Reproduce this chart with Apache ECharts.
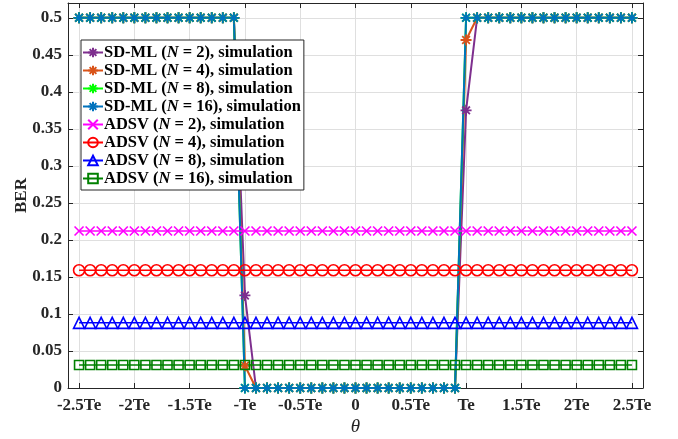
<!DOCTYPE html>
<html>
<head>
<meta charset="utf-8">
<script src="https://cdn.jsdelivr.net/npm/echarts@6/dist/echarts.min.js"></script>
<style>html,body{margin:0;padding:0;background:#fff;}#c{width:678px;height:439px;}</style>
</head>
<body>
<div id="c"></div>
<script>
const thetaValues = [-2.5,-2.4,-2.3,-2.2,-2.1,-2.0,-1.9,-1.8,-1.7,-1.6,-1.5,-1.4,-1.3,-1.2,-1.1,-1.0,-0.9,-0.8,-0.7,-0.6,-0.5,-0.4,-0.3,-0.2,-0.1,0,0.1,0.2,0.3,0.4,0.5,0.6,0.7,0.8,0.9,1.0,1.1,1.2,1.3,1.4,1.5,1.6,1.7,1.8,1.9,2.0,2.1,2.2,2.3,2.4,2.5];
const xTickValues = [-2.5,-2,-1.5,-1,-0.5,0,0.5,1,1.5,2,2.5];
const xTickLabels = ['-2.5Te','-2Te','-1.5Te','-Te','-0.5Te','0','0.5Te','Te','1.5Te','2Te','2.5Te'];
const yTickValues = [0,0.05,0.1,0.15,0.2,0.25,0.3,0.35,0.4,0.45,0.5];
const yTickLabels = ['0','0.05','0.1','0.15','0.2','0.25','0.3','0.35','0.4','0.45','0.5'];

const sdml2 = [0.5,0.5,0.5,0.5,0.5,0.5,0.5,0.5,0.5,0.5,0.5,0.5,0.5,0.5,0.5,0.125,0,0,0,0,0,0,0,0,0,0,0,0,0,0,0,0,0,0,0,0.375,0.5,0.5,0.5,0.5,0.5,0.5,0.5,0.5,0.5,0.5,0.5,0.5,0.5,0.5,0.5];
const sdml4 = [0.5,0.5,0.5,0.5,0.5,0.5,0.5,0.5,0.5,0.5,0.5,0.5,0.5,0.5,0.5,0.03,0,0,0,0,0,0,0,0,0,0,0,0,0,0,0,0,0,0,0,0.47,0.5,0.5,0.5,0.5,0.5,0.5,0.5,0.5,0.5,0.5,0.5,0.5,0.5,0.5,0.5];
const sdml8 = [0.5,0.5,0.5,0.5,0.5,0.5,0.5,0.5,0.5,0.5,0.5,0.5,0.5,0.5,0.5,0,0,0,0,0,0,0,0,0,0,0,0,0,0,0,0,0,0,0,0,0.5,0.5,0.5,0.5,0.5,0.5,0.5,0.5,0.5,0.5,0.5,0.5,0.5,0.5,0.5,0.5];
const sdml16 = [0.5,0.5,0.5,0.5,0.5,0.5,0.5,0.5,0.5,0.5,0.5,0.5,0.5,0.5,0.5,0,0,0,0,0,0,0,0,0,0,0,0,0,0,0,0,0,0,0,0,0.5,0.5,0.5,0.5,0.5,0.5,0.5,0.5,0.5,0.5,0.5,0.5,0.5,0.5,0.5,0.5];
const adsv2 = [0.212,0.212,0.212,0.212,0.212,0.212,0.212,0.212,0.212,0.212,0.212,0.212,0.212,0.212,0.212,0.212,0.212,0.212,0.212,0.212,0.212,0.212,0.212,0.212,0.212,0.212,0.212,0.212,0.212,0.212,0.212,0.212,0.212,0.212,0.212,0.212,0.212,0.212,0.212,0.212,0.212,0.212,0.212,0.212,0.212,0.212,0.212,0.212,0.212,0.212,0.212];
const adsv4 = [0.159,0.159,0.159,0.159,0.159,0.159,0.159,0.159,0.159,0.159,0.159,0.159,0.159,0.159,0.159,0.159,0.159,0.159,0.159,0.159,0.159,0.159,0.159,0.159,0.159,0.159,0.159,0.159,0.159,0.159,0.159,0.159,0.159,0.159,0.159,0.159,0.159,0.159,0.159,0.159,0.159,0.159,0.159,0.159,0.159,0.159,0.159,0.159,0.159,0.159,0.159];
const adsv8 = [0.088,0.088,0.088,0.088,0.088,0.088,0.088,0.088,0.088,0.088,0.088,0.088,0.088,0.088,0.088,0.088,0.088,0.088,0.088,0.088,0.088,0.088,0.088,0.088,0.088,0.088,0.088,0.088,0.088,0.088,0.088,0.088,0.088,0.088,0.088,0.088,0.088,0.088,0.088,0.088,0.088,0.088,0.088,0.088,0.088,0.088,0.088,0.088,0.088,0.088,0.088];
const adsv16 = [0.031,0.031,0.031,0.031,0.031,0.031,0.031,0.031,0.031,0.031,0.031,0.031,0.031,0.031,0.031,0.031,0.031,0.031,0.031,0.031,0.031,0.031,0.031,0.031,0.031,0.031,0.031,0.031,0.031,0.031,0.031,0.031,0.031,0.031,0.031,0.031,0.031,0.031,0.031,0.031,0.031,0.031,0.031,0.031,0.031,0.031,0.031,0.031,0.031,0.031,0.031];

const seriesNames = ['SD-ML (N = 2), simulation','SD-ML (N = 4), simulation','SD-ML (N = 8), simulation','SD-ML (N = 16), simulation','ADSV (N = 2), simulation','ADSV (N = 4), simulation','ADSV (N = 8), simulation','ADSV (N = 16), simulation'];
const seriesValues = [sdml2, sdml4, sdml8, sdml16, adsv2, adsv4, adsv8, adsv16];
const seriesColors = ['#7E2F8E','#D95319','#00FF00','#0072BD','#FF00FF','#FF0000','#0000FF','#008000'];

const ASTER = 'path://M5,0L5,10M0,5L10,5M1.5,1.5L8.5,8.5M8.5,1.5L1.5,8.5';
const CROSS = 'path://M0,0L10,10M10,0L0,10';
const symbols = [ASTER, ASTER, ASTER, ASTER, CROSS, 'circle', 'triangle', 'rect'];
const symSizes = [11, 11, 11, 11, 9, 11, 11, 9];
const lineWidths = [2, 2, 2, 2, 1.5, 1.5, 1.5, 1.5];
const borderWidths = [1.8, 1.8, 1.8, 1.8, 1.6, 1.6, 1.6, 1.6];

const FONT = 'Liberation Serif';
const AX = '#262626';

const series = seriesNames.map((name, k) => ({
  name: name,
  type: 'line',
  xAxisIndex: 0,
  yAxisIndex: 0,
  data: thetaValues.map((x, i) => [x, seriesValues[k][i]]),
  symbol: symbols[k],
  symbolSize: symSizes[k],
  showAllSymbol: true,
  lineStyle: { color: seriesColors[k], width: lineWidths[k] },
  itemStyle: { color: 'rgba(0,0,0,0)', borderColor: seriesColors[k], borderWidth: borderWidths[k] },
  emphasis: { disabled: true },
  animation: false,
  z: 3
}));

const chart = echarts.init(document.getElementById('c'), null, { renderer: 'canvas' });
chart.setOption({
  animation: false,
  backgroundColor: '#fff',
  grid: { left: 68, right: 35, top: 3, bottom: 51, show: false, containLabel: false, outerBoundsMode: 'none' },
  xAxis: [{
    type: 'value', position: 'bottom', min: -2.6, max: 2.6,
    name: 'θ', nameLocation: 'middle', nameGap: 29, nameMoveOverlap: false,
    nameTextStyle: { fontFamily: FONT, fontStyle: 'italic', fontSize: 19, color: AX },
    axisLine: { show: true, onZero: false, lineStyle: { color: AX, width: 1 } },
    axisTick: { show: true, inside: true, length: 5, customValues: xTickValues, lineStyle: { color: AX } },
    axisLabel: { customValues: xTickValues, margin: 9, fontFamily: FONT, fontWeight: 'bold', fontSize: 17, color: AX,
      formatter: v => { const i = xTickValues.findIndex(t => Math.abs(t - v) < 1e-6); return i >= 0 ? xTickLabels[i] : ''; } },
    splitLine: { show: true, lineStyle: { color: '#dfdfdf', width: 1 } }
  }, {
    type: 'value', position: 'top', min: -2.6, max: 2.6,
    axisLine: { show: true, onZero: false, lineStyle: { color: AX, width: 1 } },
    axisTick: { show: true, inside: true, length: 5, customValues: xTickValues, lineStyle: { color: AX } },
    axisLabel: { show: false },
    splitLine: { show: false }
  }],
  yAxis: [{
    type: 'value', position: 'left', min: 0, max: 0.52,
    name: 'BER', nameLocation: 'middle', nameGap: 38, nameRotate: 90, nameMoveOverlap: false,
    nameTextStyle: { fontFamily: FONT, fontWeight: 'bold', fontSize: 17, color: AX },
    axisLine: { show: true, onZero: false, lineStyle: { color: AX, width: 1 } },
    axisTick: { show: true, inside: true, length: 5, customValues: yTickValues, lineStyle: { color: AX } },
    axisLabel: { customValues: yTickValues, margin: 6, fontFamily: FONT, fontWeight: 'bold', fontSize: 17, color: AX,
      formatter: v => { const i = yTickValues.findIndex(t => Math.abs(t - v) < 1e-6); return i >= 0 ? yTickLabels[i] : ''; } },
    splitLine: { show: true, lineStyle: { color: '#dfdfdf', width: 1 } }
  }, {
    type: 'value', position: 'right', min: 0, max: 0.52,
    axisLine: { show: true, onZero: false, lineStyle: { color: AX, width: 1 } },
    axisTick: { show: true, inside: true, length: 5, customValues: yTickValues, lineStyle: { color: AX } },
    axisLabel: { show: false },
    splitLine: { show: false }
  }],
  legend: {
    show: true,
    orient: 'vertical',
    left: 81, top: 40,
    padding: [4, 3, 3, 1],
    itemGap: 1,
    itemWidth: 20,
    itemHeight: 12,
    borderColor: '#262626', borderWidth: 1,
    backgroundColor: '#fff',
    selectedMode: false,
    data: seriesNames,
    formatter: name => {
      const m = name.match(/^(.*)\(N = (\d+)\)(.*)$/);
      return '{b|' + m[1] + '(}{i|N}{b| = ' + m[2] + ')' + m[3] + '}';
    },
    textStyle: {
      fontFamily: FONT, fontWeight: 'bold', fontSize: 16.5, color: '#000', padding: [0, 0, 0, -4],
      rich: {
        b: { fontFamily: FONT, fontWeight: 'bold', fontSize: 16.5, color: '#000', lineHeight: 18 },
        i: { fontFamily: FONT, fontWeight: 'bold', fontStyle: 'italic', fontSize: 16.5, color: '#000', lineHeight: 18 }
      }
    }
  },
  series: series
});
</script>
</body>
</html>
